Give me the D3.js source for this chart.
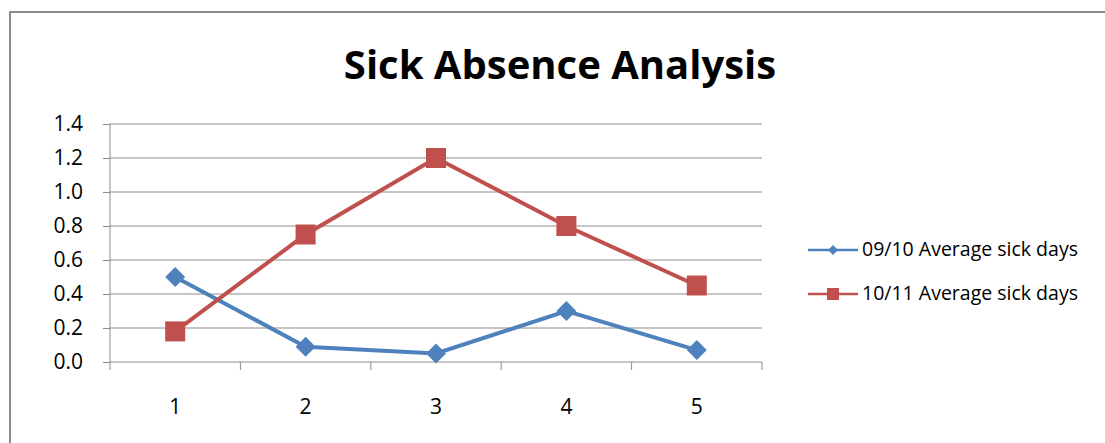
<!DOCTYPE html>
<html>
<head>
<meta charset="utf-8">
<script src="https://cdn.jsdelivr.net/npm/d3@7"></script>
<style>
body { margin: 0; background: #fff; }
text { font-family: "Open Sans", "Noto Sans", sans-serif; fill: #000; }
</style>
</head>
<body>
<div id="chart"></div>
<script>
var categories = ["1", "2", "3", "4", "5"];
var avg0910 = [0.5, 0.09, 0.05, 0.3, 0.07];
var avg1011 = [0.18, 0.75, 1.2, 0.8, 0.45];
var yTicks = [0, 0.2, 0.4, 0.6, 0.8, 1.0, 1.2, 1.4];
var seriesNames = ["09/10 Average sick days", "10/11 Average sick days"];

var width = 1105, height = 443;
var plotLeft = 110, plotRight = 762, plotTop = 124, plotBottom = 362;

var svg = d3.select("#chart").append("svg")
    .attr("width", width)
    .attr("height", height);

// chart frame
svg.append("rect")
    .attr("x", 10).attr("y", 12)
    .attr("width", 1120).attr("height", 460)
    .attr("fill", "#fff")
    .attr("stroke", "#8c8c8c")
    .attr("stroke-width", 2);

svg.append("text")
    .attr("x", 560).attr("y", 79)
    .attr("text-anchor", "middle")
    .style("font-size", "40px")
    .style("font-weight", "bold")
    .text("Sick Absence Analysis");

var x = d3.scaleBand().domain(categories).range([plotLeft, plotRight]);
var y = d3.scaleLinear().domain([0, 1.4]).range([plotBottom, plotTop]);

// gridlines
svg.append("g").selectAll("line")
    .data(yTicks.slice(1))
    .enter().append("line")
    .attr("x1", plotLeft).attr("x2", plotRight)
    .attr("y1", d => y(d)).attr("y2", d => y(d))
    .attr("stroke", "#8c8c8c").attr("stroke-width", 1);

var yAxis = svg.append("g")
    .attr("transform", "translate(" + plotLeft + ",0)")
    .call(d3.axisLeft(y).tickValues(yTicks).tickFormat(d3.format(".1f")).tickSize(7).tickPadding(20));
yAxis.selectAll("line, path").attr("stroke", "#8c8c8c");
yAxis.select(".domain").attr("d", "M0," + plotTop + "V" + plotBottom);
yAxis.selectAll("text").style("font-size", "21px").style("font-family", "'Open Sans', sans-serif").attr("fill", "#000");

var xAxis = svg.append("g")
    .attr("transform", "translate(0," + plotBottom + ")")
    .call(d3.axisBottom(x).tickSize(0).tickPadding(37));
xAxis.select(".domain").attr("stroke", "#8c8c8c").attr("d", "M" + plotLeft + ",0H" + plotRight);
xAxis.selectAll("text").style("font-size", "21px").style("font-family", "'Open Sans', sans-serif").attr("fill", "#000");
xAxis.selectAll(".bound")
    .data(d3.range(categories.length + 1))
    .enter().append("line")
    .attr("x1", i => plotLeft + i * x.step()).attr("x2", i => plotLeft + i * x.step())
    .attr("y1", 0).attr("y2", 8)
    .attr("stroke", "#8c8c8c");

var line = d3.line()
    .x((d, i) => x(categories[i]) + x.bandwidth() / 2)
    .y(d => y(d));

var colors = ["#4f81bd", "#c0504d"];
var data = [avg0910, avg1011];

data.forEach(function(vals, s) {
    svg.append("path")
        .attr("d", line(vals))
        .attr("fill", "none")
        .attr("stroke", colors[s])
        .attr("stroke-width", 4);
    svg.append("g").selectAll("path")
        .data(vals)
        .enter().append("path")
        .attr("transform", (d, i) => "translate(" + (x(categories[i]) + x.bandwidth() / 2) + "," + y(d) + ")")
        .attr("d", s == 0 ? "M0,-10L10,0L0,10L-10,0Z" : "M-10,-10H10V10H-10Z")
        .attr("fill", colors[s]);
});

// legend
var legend = svg.append("g");
seriesNames.forEach(function(name, s) {
    var ly = 250 + s * 44;
    legend.append("line")
        .attr("x1", 808).attr("x2", 858)
        .attr("y1", ly).attr("y2", ly)
        .attr("stroke", colors[s]).attr("stroke-width", 2.5);
    legend.append("path")
        .attr("transform", "translate(833," + ly + ")")
        .attr("d", s == 0 ? "M0,-5L5,0L0,5L-5,0Z" : "M-6,-6H6V6H-6Z")
        .attr("fill", colors[s]);
    legend.append("text")
        .attr("x", 862).attr("y", ly + 6)
        .style("font-size", "19.5px")
        .text(name);
});
</script>
</body>
</html>
